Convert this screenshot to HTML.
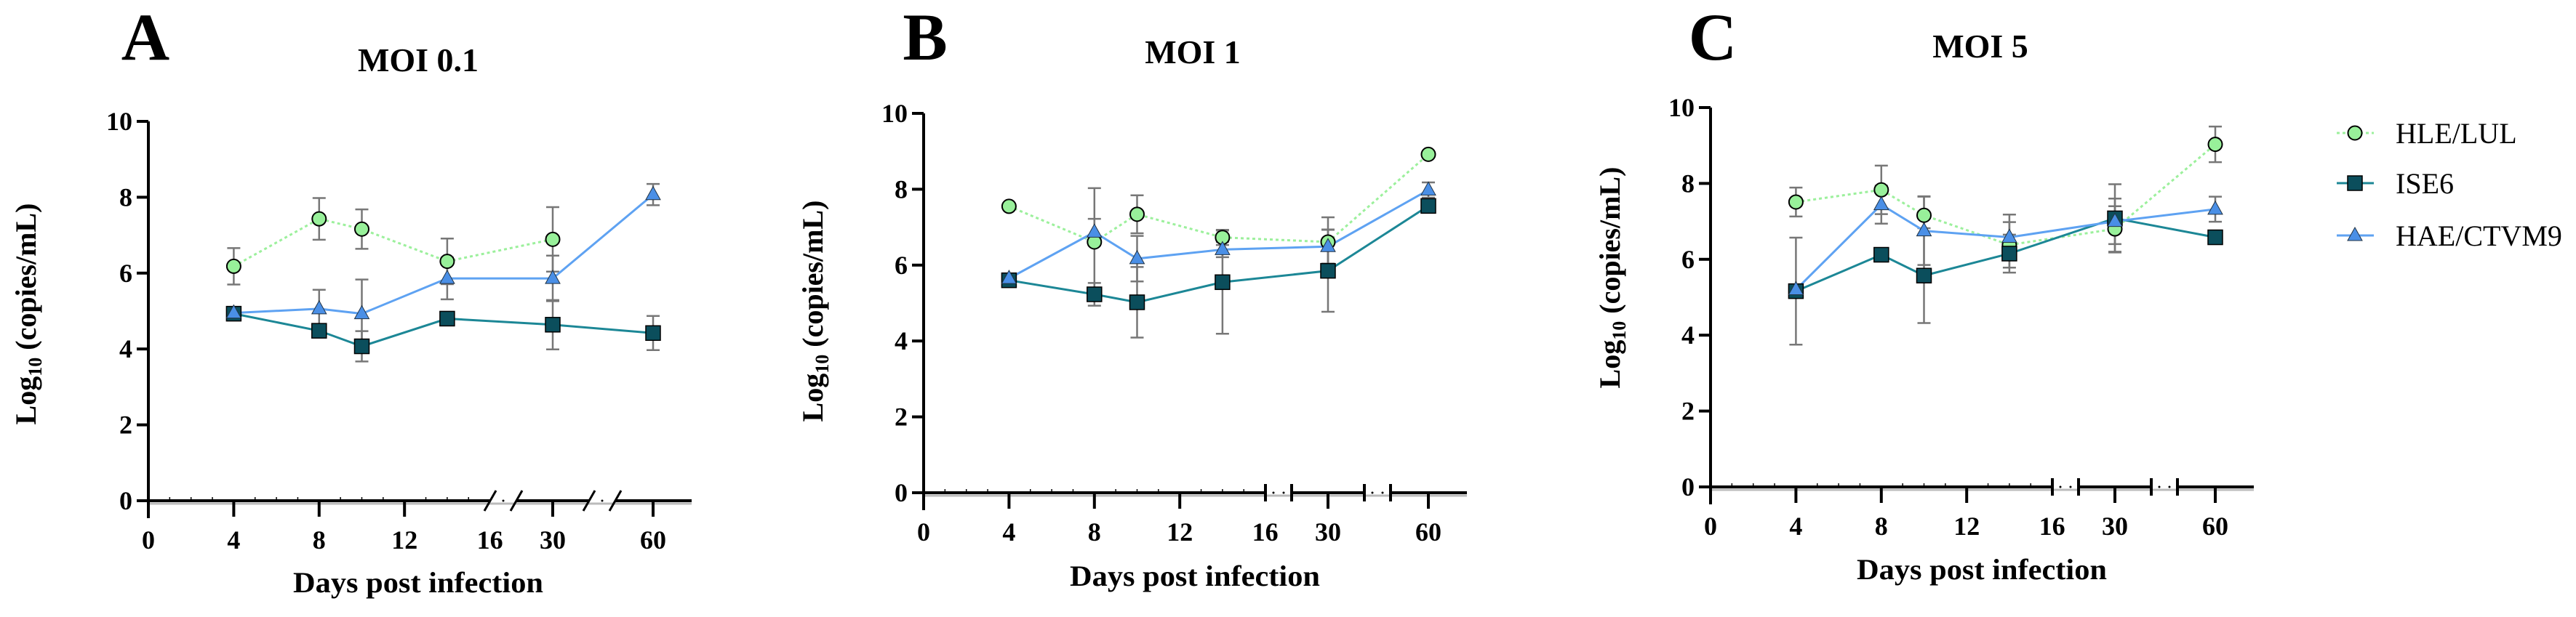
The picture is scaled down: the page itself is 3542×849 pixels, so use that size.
<!DOCTYPE html>
<html><head><meta charset="utf-8">
<style>
html,body{margin:0;padding:0;background:#fff;}
svg{display:block;font-family:"Liberation Serif",serif;}
</style></head>
<body>
<svg id="chart" width="3542" height="849" viewBox="0 0 3542 849" xmlns="http://www.w3.org/2000/svg"></svg>
<script>
// ---- data ----
const days = [4, 8, 10, 14, 30, 60];
const xTickLabels = ["0", "4", "8", "12", "16", "30", "60"];
const xTickDays = [0, 4, 8, 12, 16, 30, 60];
const yTickValues = [0, 2, 4, 6, 8, 10];
const seriesNames = ["HLE/LUL", "ISE6", "HAE/CTVM9"];
const panelTitles = ["MOI 0.1", "MOI 1", "MOI 5"];
const panelLetters = ["A", "B", "C"];

// MOI 0.1
const aHLE = [6.18, 7.43, 7.16, 6.31, 6.89, null];
const aHLEerr = [0.48, 0.55, 0.52, 0.6, 0.85, 0];
const aISE = [4.93, 4.48, 4.07, 4.8, 4.64, 4.42];
const aISEerr = [0.1, 0.15, 0.4, 0.1, 0.65, 0.45];
const aHAE = [4.95, 5.06, 4.93, 5.86, 5.86, 8.07];
const aHAEerr = [0.1, 0.5, 0.9, 0.55, 0.6, 0.28];
// MOI 1
const bHLE = [7.55, 6.61, 7.34, 6.73, 6.61, 8.92];
const bHLEerr = [0.1, 1.42, 0.5, 0.2, 0.65, 0.1];
const bISE = [5.6, 5.23, 5.02, 5.55, 5.85, 7.56];
const bISEerr = [0.1, 0.3, 0.93, 1.36, 1.08, 0.1];
const bHAE = [5.65, 6.87, 6.17, 6.41, 6.49, 7.98];
const bHAEerr = [0.1, 0.35, 0.6, 0.2, 0.45, 0.2];
// MOI 5
const cHLE = [7.51, 7.83, 7.16, 6.38, 6.8, 9.03];
const cHLEerr = [0.38, 0.64, 0.5, 0.6, 0.6, 0.47];
const cISE = [5.16, 6.12, 5.57, 6.15, 7.08, 6.58];
const cISEerr = [1.41, 0.1, 1.25, 0.5, 0.9, 0.1];
const cHAE = [5.2, 7.44, 6.75, 6.58, 7.0, 7.32];
const cHAEerr = [0.1, 0.5, 0.9, 0.6, 0.6, 0.33];

const svg = document.getElementById('chart');
const NS = 'http://www.w3.org/2000/svg';
function mk(tag, attrs, parent) {
  const e = document.createElementNS(NS, tag);
  for (const k in attrs) e.setAttribute(k, attrs[k]);
  (parent || svg).appendChild(e);
  return e;
}
const colHLE = '#98f09a', colHLELine = '#9cf09c';
const colISE = '#0b4e5c', colISELine = '#1c8796';
const colHAE = '#4a8fe6', colHAELine = '#5ea2f2';

const panels = [
  {ox: 204, oy: 689, data: [aHLE, aISE, aHAE], err: [aHLEerr, aISEerr, aHAEerr], slash: true,
   letterX: 200, titleX: 575, titleY: 98, ytX: 35, ytY: 432, xtY: 815, xtX: 575},
  {ox: 1270, oy: 678, data: [bHLE, bISE, bHAE], err: [bHLEerr, bISEerr, bHAEerr], slash: false,
   letterX: 1272, titleX: 1640, titleY: 87, ytX: 1117, ytY: 428, xtY: 806, xtX: 1643},
  {ox: 2352, oy: 670, data: [cHLE, cISE, cHAE], err: [cHLEerr, cISEerr, cHAEerr], slash: false,
   letterX: 2355, titleX: 2723, titleY: 79, ytX: 2213, ytY: 382, xtY: 797, xtX: 2725}
];
const PX_DAY = 29.35, POS30 = 556, POS60 = 694, XEND = 747, YH = 522;
function xRel(d) { if (d <= 16) return d * PX_DAY; if (d === 30) return POS30; return POS60; }

panels.forEach((p, pi) => {
  const g = mk('g', {});
  
  
  const X = d => p.ox + xRel(d);
  const Y = v => p.oy - v / 10 * YH;

  const letter = mk('text', {x: p.letterX, y: 82, 'font-size': 92, 'font-weight': 'bold', 'text-anchor': 'middle'}, g);
  letter.textContent = panelLetters[pi];
  
  

  const t = mk('text', {x: p.titleX, y: p.titleY, 'font-size': 46, 'font-weight': 'bold', 'text-anchor': 'middle'}, g);
  t.textContent = panelTitles[pi];
  
  

  // y axis
  const ya = mk('line', {x1: p.ox, y1: Y(10), x2: p.ox, y2: p.oy + 24, stroke: '#000', 'stroke-width': 4}, g);
  
  
  yTickValues.forEach(v => {
    mk('line', {x1: p.ox - 16, y1: Y(v), x2: p.ox, y2: Y(v), stroke: '#000', 'stroke-width': 4}, g);
    const tl = mk('text', {x: p.ox - 22, y: Y(v) + 12, 'font-size': 36, 'font-weight': 'bold', 'text-anchor': 'end'}, g);
    tl.textContent = String(v);
    
    
  });

  // x axis with breaks
  const segs = [[0, 470], [506, 606], [642, XEND]];
  mk('line', {x1: p.ox, y1: p.oy + 4, x2: p.ox + XEND, y2: p.oy + 4, stroke: '#bbb', 'stroke-width': 3}, g);
  segs.forEach(s => {
    const xl = mk('line', {x1: p.ox + s[0], y1: p.oy, x2: p.ox + s[1], y2: p.oy, stroke: '#000', 'stroke-width': 4}, g);
    
    
  });
  [[470, 506], [606, 642]].forEach(b => {
    if (p.slash) {
      mk('line', {x1: p.ox + b[0] - 8, y1: p.oy + 14, x2: p.ox + b[0] + 8, y2: p.oy - 14, stroke: '#000', 'stroke-width': 3}, g);
      mk('line', {x1: p.ox + b[1] - 8, y1: p.oy + 14, x2: p.ox + b[1] + 8, y2: p.oy - 14, stroke: '#000', 'stroke-width': 3}, g);
      mk('circle', {cx: p.ox + (b[0] + b[1]) / 2, cy: p.oy, r: 1.5, fill: '#000'}, g);
    } else {
      mk('line', {x1: p.ox + b[0], y1: p.oy - 12, x2: p.ox + b[0], y2: p.oy + 12, stroke: '#000', 'stroke-width': 4}, g);
      mk('line', {x1: p.ox + b[1], y1: p.oy - 12, x2: p.ox + b[1], y2: p.oy + 12, stroke: '#000', 'stroke-width': 4}, g);
      mk('circle', {cx: p.ox + b[0] + 11, cy: p.oy, r: 1.5, fill: '#000'}, g);
      mk('circle', {cx: p.ox + b[1] - 11, cy: p.oy, r: 1.5, fill: '#000'}, g);
    }
  });
  // minor ticks
  for (let d = 1; d < 16; d++) {
    if (d % 4 === 0) continue;
    mk('line', {x1: X(d), y1: p.oy - 5, x2: X(d), y2: p.oy, stroke: '#000', 'stroke-width': 1.5}, g);
  }
  xTickDays.forEach((d, i) => {
    if (d !== 16) mk('line', {x1: X(d), y1: p.oy, x2: X(d), y2: p.oy + 22, stroke: '#000', 'stroke-width': 4}, g);
    const tl = mk('text', {x: X(d), y: p.oy + 66, 'font-size': 36, 'font-weight': 'bold', 'text-anchor': 'middle'}, g);
    tl.textContent = xTickLabels[i];
    
    
  });

  const xt = mk('text', {x: p.xtX, y: p.xtY, 'font-size': 40, 'font-weight': 'bold', 'text-anchor': 'middle', textLength: 344, lengthAdjust: 'spacingAndGlyphs'}, g);
  xt.textContent = 'Days post infection';
  
  

  const yt = mk('text', {x: 0, y: 0, 'font-size': 40, 'font-weight': 'bold', 'text-anchor': 'middle', transform: `translate(${p.ytX + 14},${p.ytY}) rotate(-90)`}, g);
  yt.innerHTML = 'Log<tspan font-size="26" dy="8">10</tspan><tspan dy="-8"> (copies/mL)</tspan>';
  
  

  // series
  const cols = [[colHLE, colHLELine, '4 4'], [colISE, colISELine, ''], [colHAE, colHAELine, '']];
  const drawOrder = [0, 1, 2];
  drawOrder.forEach(si => {
    const vals = p.data[si], errs = p.err[si];
    const sg = mk('g', {}, g);
    
    
    let pts = [];
    vals.forEach((v, i) => { if (v !== null) pts.push(X(days[i]) + ',' + Y(v)); });
    const ln = mk('polyline', {points: pts.join(' '), fill: 'none', stroke: cols[si][1], 'stroke-width': 3, 'stroke-dasharray': cols[si][2]}, sg);
    
    
    vals.forEach((v, i) => {
      if (v === null) return;
      const e = errs[i], cx = X(days[i]);
      if (e > 0.15) {
        mk('line', {x1: cx, y1: Y(v + e), x2: cx, y2: Y(v - e), stroke: '#777', 'stroke-width': 2.5}, sg);
        mk('line', {x1: cx - 9, y1: Y(v + e), x2: cx + 9, y2: Y(v + e), stroke: '#777', 'stroke-width': 2.5}, sg);
        mk('line', {x1: cx - 9, y1: Y(v - e), x2: cx + 9, y2: Y(v - e), stroke: '#777', 'stroke-width': 2.5}, sg);
      }
    });
  });
  drawOrder.forEach(si => {
    const vals = p.data[si];
    vals.forEach((v, i) => {
      if (v === null) return;
      const cx = X(days[i]), cy = Y(v);
      let m;
      if (si === 0) m = mk('circle', {cx: cx, cy: cy, r: 9.5, fill: colHLE, stroke: '#000', 'stroke-width': 2}, g);
      else if (si === 1) m = mk('rect', {x: cx - 10, y: cy - 10, width: 20, height: 20, fill: colISE, stroke: '#000', 'stroke-width': 1.5}, g);
      else m = mk('polygon', {points: `${cx},${cy - 11} ${cx - 10},${cy + 7} ${cx + 10},${cy + 7}`, fill: colHAE, stroke: '#234', 'stroke-width': 1}, g);
      
      
    });
  });
});

// legend
const lg = mk('g', {});


const legY = [183, 252, 324];
const legCols = [[colHLE, colHLELine], [colISE, colISELine], [colHAE, colHAELine]];
seriesNames.forEach((n, i) => {
  const eg = mk('g', {}, lg);
  
  
  const y = legY[i], cx = 3238;
  mk('line', {x1: 3213, y1: y, x2: 3264, y2: y, stroke: legCols[i][1], 'stroke-width': 3, 'stroke-dasharray': i === 0 ? '4 4' : ''}, eg);
  if (i === 0) mk('circle', {cx: cx, cy: y, r: 9.5, fill: colHLE, stroke: '#000', 'stroke-width': 2}, eg);
  else if (i === 1) mk('rect', {x: cx - 10, y: y - 10, width: 20, height: 20, fill: colISE, stroke: '#000', 'stroke-width': 1.5}, eg);
  else mk('polygon', {points: `${cx},${y - 11} ${cx - 10},${y + 7} ${cx + 10},${y + 7}`, fill: colHAE, stroke: '#234', 'stroke-width': 1}, eg);
  const tx = mk('text', {x: 3294, y: y + 14, 'font-size': 40}, eg);
  tx.textContent = n;
});
</script>
</body></html>
